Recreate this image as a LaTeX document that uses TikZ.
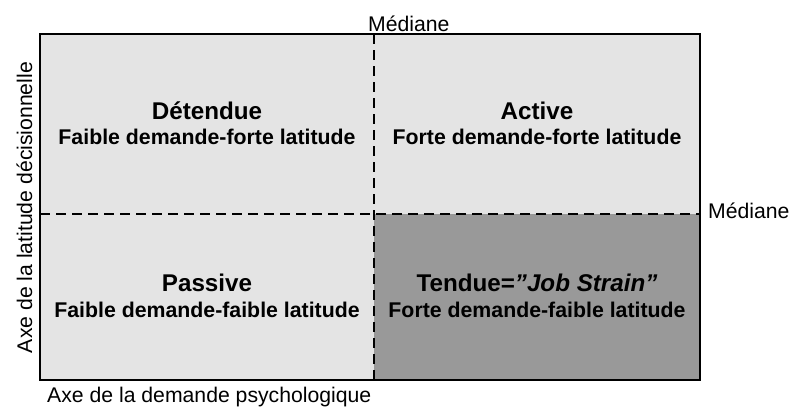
\documentclass[tikz,border=0pt]{standalone}
\usepackage{fontspec}
\setmainfont{Liberation Sans}
\usepackage{xcolor}
\definecolor{clair}{HTML}{E4E4E4}
\definecolor{fonce}{HTML}{999999}
\tikzset{
  titre/.style={font=\fontsize{24.2}{28}\selectfont\bfseries, anchor=base},
  soustitre/.style={font=\fontsize{21.3}{25}\selectfont\bfseries, anchor=base},
  legende/.style={font=\fontsize{21.2}{25}\selectfont, inner sep=0pt},
  mediane/.style={dash pattern=on 10pt off 6pt, line width=2.2pt},
}
\begin{document}
\begin{tikzpicture}[x=1pt, y=-1pt]
  \useasboundingbox (0,0) rectangle (789,407);
  % quadrants
  \fill[clair] (40,34) rectangle (700,380);
  \fill[fonce] (374,214) rectangle (700,380);
  % medianes
  \draw[mediane] (374,34) -- (374,380);
  \draw[mediane] (40,214) -- (700,214);
  \draw[line width=2pt] (40,34) rectangle (700,380);
  % textes des quadrants
  \node[titre] (detendue) at (207,119) {Détendue};
  \node[soustitre] (detendueTxt) at (207,144) {Faible demande-forte latitude};
  \node[titre] (active) at (537,119) {Active};
  \node[soustitre] (activeTxt) at (537,144) {Forte demande-forte latitude};
  \node[titre] (passive) at (207,291) {Passive};
  \node[soustitre] (passiveTxt) at (207,317) {Faible demande-faible latitude};
  \node[titre] (tendue) at (537,291) {Tendue=\textit{"Job Strain"}};
  \node[soustitre] (tendueTxt) at (537,317) {Forte demande-faible latitude};
  % axes et medianes
  \node[legende, anchor=base west] (medHaut) at (368,31) {Médiane};
  \node[legende, anchor=base west] (medDroite) at (708,218) {Médiane};
  \node[legende, anchor=base west] (axeX) at (47,402) {Axe de la demande psychologique};
  \node[legende, anchor=base, rotate=90] (axeY) at (32,207.5) {Axe de la latitude décisionnelle};
\end{tikzpicture}
\end{document}
